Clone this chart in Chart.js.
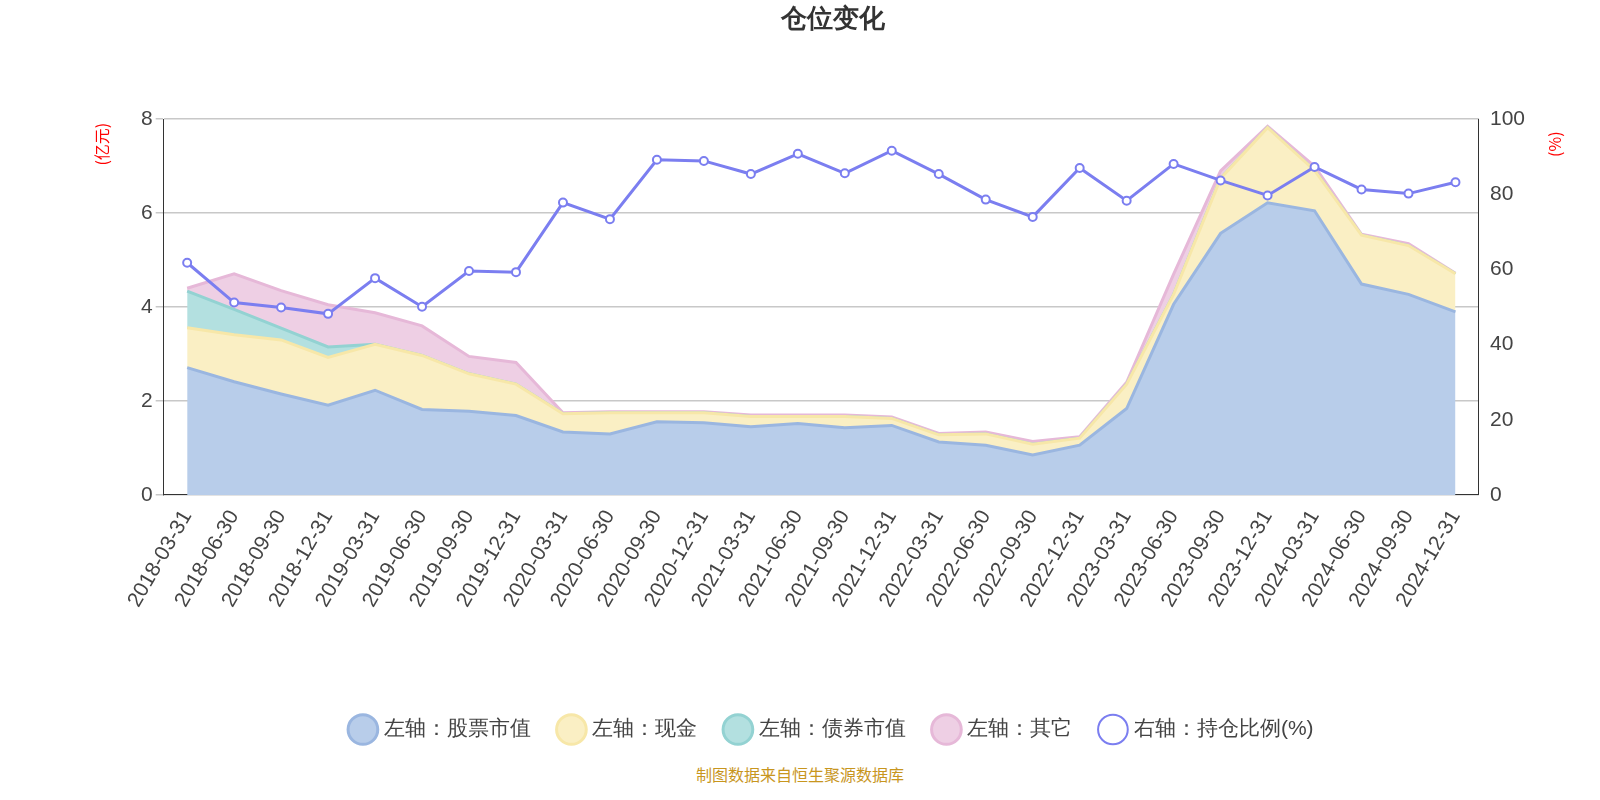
<!DOCTYPE html>
<html><head><meta charset="utf-8">
<script src="https://cdn.jsdelivr.net/npm/chart.js@4/dist/chart.umd.min.js"></script>
<style>
body{margin:0;background:#fff;font-family:"Noto Sans CJK SC","Noto Sans",sans-serif}
#wrap{position:relative;width:1600px;height:800px}
#src{position:absolute;left:0;width:1600px;top:762px;text-align:center;color:#c8961e;font-size:16px}
</style></head><body>
<div id="wrap"><canvas id="c" width="1600" height="760"></canvas><div id="src">制图数据来自恒生聚源数据库</div></div>
<script>
var dates = ['2018-03-31','2018-06-30','2018-09-30','2018-12-31','2019-03-31','2019-06-30','2019-09-30','2019-12-31',
  '2020-03-31','2020-06-30','2020-09-30','2020-12-31','2021-03-31','2021-06-30','2021-09-30','2021-12-31',
  '2022-03-31','2022-06-30','2022-09-30','2022-12-31','2023-03-31','2023-06-30','2023-09-30','2023-12-31',
  '2024-03-31','2024-06-30','2024-09-30','2024-12-31'];
var stocks = [2.71,2.41,2.15,1.91,2.23,1.82,1.78,1.69,1.34,1.30,1.56,1.54,1.45,1.52,1.43,1.48,1.13,1.06,0.85,1.06,1.84,4.06,5.57,6.22,6.05,4.49,4.27,3.90];
var cash = [0.85,1.00,1.15,1.02,0.98,1.15,0.80,0.67,0.39,0.45,0.19,0.21,0.22,0.15,0.24,0.15,0.15,0.24,0.23,0.15,0.52,0.21,1.17,1.60,0.86,1.04,1.04,0.81];
var bonds = [0.78,0.54,0.25,0.22,0,0,0,0,0,0,0,0,0,0,0,0,0,0,0,0,0,0,0,0,0,0,0,0];
var other = [0.06,0.76,0.80,0.90,0.67,0.63,0.37,0.46,0.02,0.02,0.02,0.02,0.03,0.03,0.03,0.03,0.03,0.04,0.06,0.03,0.04,0.43,0.16,0.03,0.09,0.02,0.04,0.01];
var ratio = [61.8,51.2,49.9,48.2,57.7,50.1,59.6,59.3,77.8,73.4,89.2,88.9,85.4,90.8,85.6,91.6,85.4,78.6,74.0,87.0,78.3,88.1,83.7,79.7,87.3,81.3,80.2,83.2];

function area(label, data, line, fillc, fill) {
  return {label: label, data: data, borderColor: line, backgroundColor: fillc, fill: fill,
    borderWidth: 3, pointRadius: 0, tension: 0, yAxisID: 'y', stack: 's', order: 2};
}
// axis unit labels drawn rotated above each y axis
var unitLabels = {
  id: 'unitLabels',
  afterDraw: function(chart) {
    var ctx = chart.ctx, a = chart.chartArea;
    ctx.save();
    ctx.fillStyle = 'red';
    ctx.font = '16px "Noto Sans CJK SC"';
    ctx.textAlign = 'center';
    ctx.textBaseline = 'middle';
    [[a.left - 62, '(亿元)'], [a.right + 76, '(%)']].forEach(function(p) {
      ctx.save();
      ctx.translate(p[0], a.top + 25);
      ctx.rotate(-Math.PI / 2);
      ctx.fillText(p[1], 0, 0);
      ctx.restore();
    });
    ctx.restore();
  }
};
var tick = {font: {size: 21}, color: '#444'};
new Chart(document.getElementById('c'), {
  type: 'line',
  data: {labels: dates, datasets: [
    area('左轴：股票市值', stocks, '#9ab6e0', '#b8cdea', 'origin'),
    area('左轴：现金', cash, '#f7e7a8', '#faefc4', '-1'),
    area('左轴：债券市值', bonds, '#93d2d2', '#b3e0e0', '-1'),
    area('左轴：其它', other, '#e6b8d8', '#eecfe4', '-1'),
    {label: '右轴：持仓比例(%)', data: ratio, borderColor: '#7b7ef0', backgroundColor: '#fff', borderWidth: 3,
      pointRadius: 4, pointBorderWidth: 2, pointBackgroundColor: '#fff', pointBorderColor: '#7b7ef0',
      yAxisID: 'y1', fill: false, order: 1}
  ]},
  plugins: [unitLabels],
  options: {
    responsive: false, animation: false,
    layout: {padding: {left: 138, right: 72, top: 0, bottom: 10}},
    plugins: {
      title: {display: true, text: '仓位变化', font: {size: 26, weight: 'bold'}, color: '#333', padding: {top: 4, bottom: 84}},
      legend: {position: 'bottom', labels: {usePointStyle: true, pointStyle: 'circle', font: {size: 21}, color: '#444', padding: 30, boxWidth: 22, boxHeight: 22,
        sort: function(a, b) { return a.datasetIndex - b.datasetIndex; }},
        title: {display: true, text: '', padding: 30}}
    },
    scales: {
      x: {offset: true, grid: {display: false, offset: true, drawTicks: true, tickLength: 8}, border: {color: '#333'},
        ticks: Object.assign({maxRotation: 60, minRotation: 60, autoSkip: false}, tick)},
      y: {min: 0, max: 8, ticks: Object.assign({stepSize: 2}, tick), border: {color: '#333'},
        grid: {color: '#c8c8c8', lineWidth: 1.5, tickLength: 8}},
      y1: {position: 'right', min: 0, max: 100, ticks: Object.assign({stepSize: 20}, tick), border: {color: '#333'},
        grid: {display: false, tickLength: 8}}
    }
  }
});
</script>
</body></html>
